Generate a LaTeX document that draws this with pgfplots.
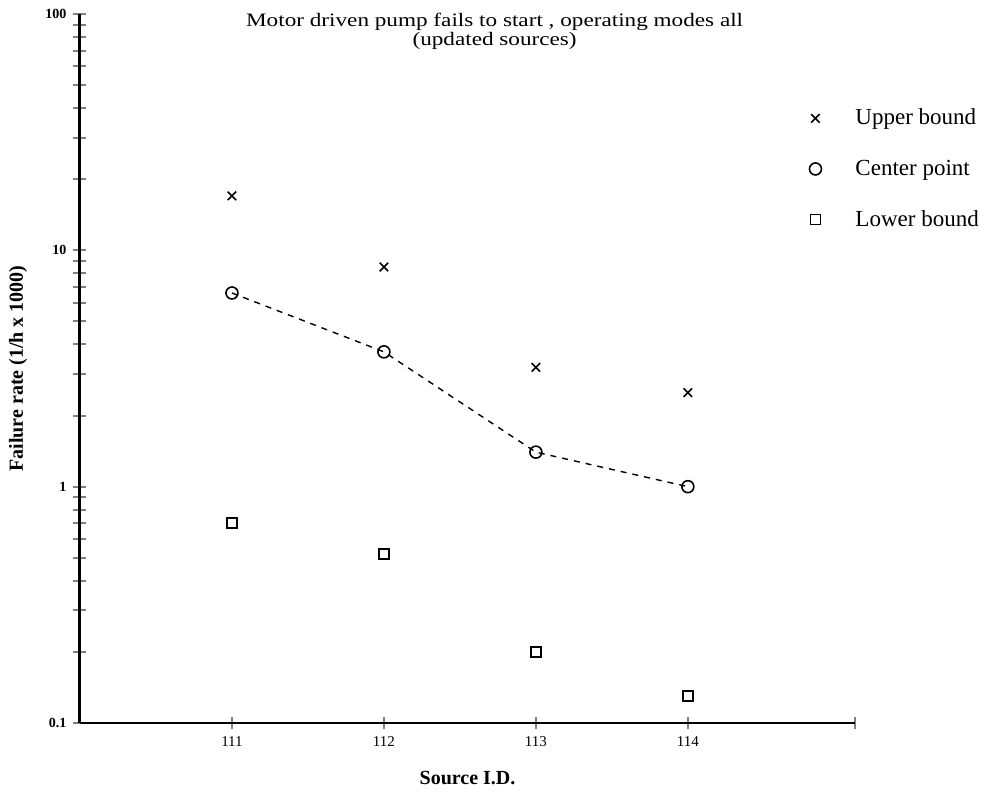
\documentclass[border=0pt]{standalone}
\usepackage{pgfplots}
\pgfplotsset{compat=1.18}
\usepackage{fontspec}
\setmainfont{Liberation Serif}
\begin{document}
\begin{tikzpicture}
\begin{axis}[
  name=ax,
  scale only axis,
  width=387.5pt, height=354.5pt,
  xmin=0, xmax=5.1,
  ymode=log, ymin=0.1, ymax=100,
  axis x line=bottom, axis y line=left,
  x axis line style={-, line width=1pt},
  y axis line style={-, line width=1.5pt},
  xtick={1,2,3,4,5.1},
  xticklabels={111,112,113,114,{}},
  ytick={0.1,1,10,100},
  yticklabels={0.1,1,10,100},
  tick align=center,
  major tick length=6.5pt,
  minor tick length=6.5pt,
  x tick style={line width=1.1pt},
  y tick style={line width=1pt},
  /pgf/number format/assume math mode=true,
  xticklabel style={font=\fontsize{7.5}{8}\selectfont},
  yticklabel style={font=\bfseries\fontsize{7}{8}\selectfont},
  xlabel={\bfseries Source I.D.},
  ylabel={\bfseries Failure rate (1/h x 1000)},
  every axis x label/.style={at={(rel axis cs:0.5,0)}, anchor=center, yshift=-27.5pt, font=\fontsize{10}{12}\selectfont},
  every axis y label/.style={at={(rel axis cs:0,0.5)}, xshift=-31pt, rotate=90, anchor=center, font=\fontsize{10}{12}\selectfont},
  clip=false,
  legend style={at={(rel axis cs:0.933,0.878)}, anchor=north west, draw=none, fill=none,
    font=\fontsize{11.5}{13}\selectfont, row sep=12pt, legend cell align=left,
    /tikz/every odd column/.append style={column sep=15pt}},
]
\addplot[only marks, mark=x, mark size=3pt, black, thick] coordinates {(1,17) (2,8.5) (3,3.2) (4,2.5)};
\addlegendentry{Upper bound}
\addplot[dashed, black, line width=0.7pt, forget plot] coordinates {(1,6.6) (2,3.72) (3,1.4) (4,1.0)};
\addplot[only marks, mark=o, mark size=3pt, black, thick, fill=white] coordinates {(1,6.6) (2,3.72) (3,1.4) (4,1.0)};
\addlegendentry{Center point}
\addplot[only marks, mark=square, mark size=2.5pt, black, thick] coordinates {(1,0.7) (2,0.52) (3,0.2) (4,0.13)};
\addlegendentry{Lower bound}
\node[anchor=north, align=center, font=\fontsize{9.5}{7}\selectfont, xscale=1.22, transform shape] at ([yshift=4pt]rel axis cs:0.535,1) {Motor driven pump fails to start , operating modes all\\(updated sources)};
\end{axis}
\pgfresetboundingbox
\path ([shift={(-40pt,-35pt)}]ax.south west) rectangle ([shift={(66.5pt,7pt)}]ax.north east);
\end{tikzpicture}
\end{document}
